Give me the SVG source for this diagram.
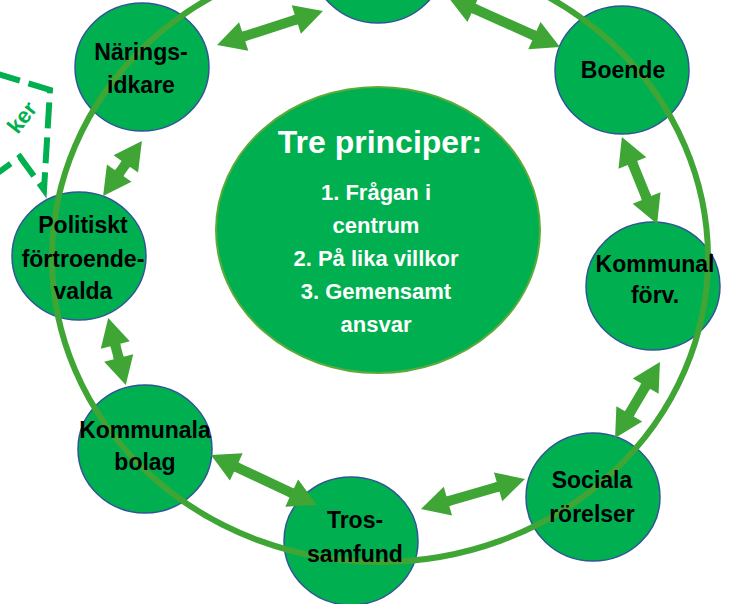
<svg xmlns="http://www.w3.org/2000/svg" width="731" height="604" viewBox="0 0 731 604">
<defs>
<style>
.node{fill:#00B050;stroke:#2F5597;stroke-width:1.5}
.lbl{font-family:"Liberation Sans",Arial,sans-serif;font-weight:bold;font-size:23px;fill:#000;text-anchor:middle}
.ctr{font-family:"Liberation Sans",Arial,sans-serif;font-weight:bold;fill:#fff;text-anchor:middle}
.ring{fill:none;stroke:#3FA535;stroke-width:6}
.arr{stroke:#3FA535;stroke-width:10;fill:none;marker-start:url(#head);marker-end:url(#head)}
</style>
<marker id="head" markerUnits="userSpaceOnUse" viewBox="-2 -16 31 32" refX="0" refY="0" markerWidth="31" markerHeight="32" orient="auto-start-reverse" overflow="visible">
<path d="M-2,-5 L0,-5 L0,-15 L28,0 L0,15 L0,5 L-2,5 Z" fill="#3FA535"/>
</marker>
</defs>
<rect width="731" height="604" fill="#fff"/>

<g id="dashed-shape">
<polyline points="-5,73 50,90 44,190 20,157 -5,175" fill="none" stroke="#00B050" stroke-width="6" stroke-dasharray="26 9"/>
<text x="38" y="109" transform="rotate(-52 38 109)" font-family="Liberation Sans,Arial,sans-serif" font-weight="bold" font-size="22" fill="#00B050" text-anchor="end">ker</text>
</g>

<g id="center">
<ellipse cx="378" cy="230" rx="162" ry="143" fill="#00B050" stroke="#5BAA3A" stroke-width="2"/>
<text class="ctr" x="380" y="153" font-size="32">Tre principer:</text>
<text class="ctr" x="376" y="200" font-size="22">1. Frågan i</text>
<text class="ctr" x="376" y="233" font-size="22">centrum</text>
<text class="ctr" x="376" y="266" font-size="22">2. På lika villkor</text>
<text class="ctr" x="376" y="299" font-size="22">3. Gemensamt</text>
<text class="ctr" x="376" y="332" font-size="22">ansvar</text>
</g>

<g id="node-top"><ellipse class="node" cx="378" cy="-41" rx="67" ry="64"/></g>
<g id="node-naringsidkare"><ellipse class="node" cx="142" cy="67" rx="67" ry="64"/></g>
<g id="node-boende"><ellipse class="node" cx="622" cy="70" rx="67" ry="64"/></g>
<g id="node-politiskt"><ellipse class="node" cx="79" cy="256" rx="67" ry="64"/></g>
<g id="node-kommunal-forv"><ellipse class="node" cx="653" cy="286" rx="67" ry="64"/></g>
<g id="node-kommunala-bolag"><ellipse class="node" cx="145" cy="449" rx="67" ry="64"/></g>
<g id="node-trossamfund"><ellipse class="node" cx="351" cy="541" rx="67" ry="64"/></g>
<g id="node-sociala"><ellipse class="node" cx="593" cy="497" rx="67" ry="64"/></g>

<g id="connectors">
<ellipse class="ring" cx="380" cy="258" rx="328" ry="304"/>
<line class="arr" x1="243.7" y1="36.5" x2="296.3" y2="19.5"/>
<line class="arr" x1="473.6" y1="8.4" x2="534.4" y2="35.6"/>
<line class="arr" x1="632.4" y1="163" x2="646.6" y2="198"/>
<line class="arr" x1="645.7" y1="386.1" x2="629.3" y2="413.9"/>
<line class="arr" x1="498.1" y1="486.8" x2="447.9" y2="501.2"/>
<line class="arr" x1="236.3" y1="466.9" x2="291.7" y2="493.1"/>
<line class="arr" x1="115.3" y1="345" x2="118.7" y2="358"/>
<line class="arr" x1="125.8" y1="163.8" x2="119.2" y2="173.2"/>
</g>

<g id="labels">
<g id="label-naringsidkare"><text class="lbl" x="141" y="60">Närings-</text><text class="lbl" x="141" y="93">idkare</text></g>
<g id="label-boende"><text class="lbl" x="623" y="78">Boende</text></g>
<g id="label-politiskt"><text class="lbl" x="83" y="233">Politiskt</text><text class="lbl" x="83" y="267">förtroende-</text><text class="lbl" x="83" y="299">valda</text></g>
<g id="label-kommunal-forv"><text class="lbl" x="655" y="272">Kommunal</text><text class="lbl" x="655" y="303">förv.</text></g>
<g id="label-kommunala-bolag"><text class="lbl" x="145" y="438">Kommunala</text><text class="lbl" x="145" y="470">bolag</text></g>
<g id="label-trossamfund"><text class="lbl" x="355" y="528">Tros-</text><text class="lbl" x="355" y="562">samfund</text></g>
<g id="label-sociala"><text class="lbl" x="592" y="488">Sociala</text><text class="lbl" x="592" y="522">rörelser</text></g>
</g>
</svg>
